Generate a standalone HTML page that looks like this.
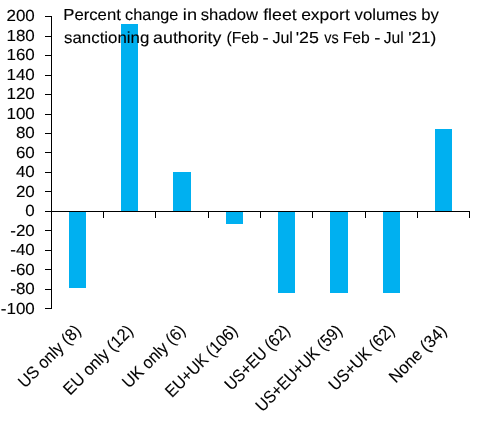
<!DOCTYPE html>
<html><head><meta charset="utf-8"><style>
html,body{margin:0;padding:0;background:#fff;width:482px;height:422px;overflow:hidden}
svg{display:block;will-change:transform}
text{font-family:"Liberation Sans",sans-serif;font-size:16px;fill:#000;stroke:#000;stroke-width:0.12px;text-rendering:geometricPrecision}
</style></head><body>
<svg width="482" height="422" viewBox="0 0 482 422">
<rect x="69" y="212" width="17" height="76" fill="#00B0F0"/>
<rect x="121" y="24" width="17" height="187" fill="#00B0F0"/>
<rect x="173" y="172" width="18" height="39" fill="#00B0F0"/>
<rect x="226" y="212" width="17" height="12" fill="#00B0F0"/>
<rect x="278" y="212" width="17" height="81" fill="#00B0F0"/>
<rect x="330" y="212" width="18" height="81" fill="#00B0F0"/>
<rect x="383" y="212" width="17" height="81" fill="#00B0F0"/>
<rect x="435" y="129" width="17" height="82" fill="#00B0F0"/>
<path d="M51.5 16V309 M45 16.5H52 M45 36.5H52 M45 55.5H52 M45 75.5H52 M45 94.5H52 M45 114.5H52 M45 133.5H52 M45 152.5H52 M45 172.5H52 M45 191.5H52 M45 211.5H52 M45 230.5H52 M45 250.5H52 M45 269.5H52 M45 289.5H52 M45 308.5H52 M51 211.5H470 M103.5 211V218 M155.5 211V218 M208.5 211V218 M260.5 211V218 M312.5 211V218 M365.5 211V218 M417.5 211V218 M469.5 211V218" stroke="#000" stroke-width="1" fill="none"/>
<text transform="translate(34.8,21.10) scale(1.06,1)" text-anchor="end">200</text>
<text transform="translate(34.8,40.60) scale(1.06,1)" text-anchor="end">180</text>
<text transform="translate(34.8,60.10) scale(1.06,1)" text-anchor="end">160</text>
<text transform="translate(34.8,79.60) scale(1.06,1)" text-anchor="end">140</text>
<text transform="translate(34.8,99.10) scale(1.06,1)" text-anchor="end">120</text>
<text transform="translate(34.8,118.60) scale(1.06,1)" text-anchor="end">100</text>
<text transform="translate(34.8,138.10) scale(1.06,1)" text-anchor="end">80</text>
<text transform="translate(34.8,157.60) scale(1.06,1)" text-anchor="end">60</text>
<text transform="translate(34.8,177.10) scale(1.06,1)" text-anchor="end">40</text>
<text transform="translate(34.8,196.60) scale(1.06,1)" text-anchor="end">20</text>
<text transform="translate(34.8,216.10) scale(1.06,1)" text-anchor="end">0</text>
<text transform="translate(34.8,235.60) scale(1.06,1)" text-anchor="end">-20</text>
<text transform="translate(34.8,255.10) scale(1.06,1)" text-anchor="end">-40</text>
<text transform="translate(34.8,274.60) scale(1.06,1)" text-anchor="end">-60</text>
<text transform="translate(34.8,294.10) scale(1.06,1)" text-anchor="end">-80</text>
<text transform="translate(34.8,313.60) scale(1.06,1)" text-anchor="end">-100</text>
<text transform="translate(63.24,20) scale(1.0447,1)" style="font-size:16.0px">Percent</text>
<text transform="translate(125.09,20) scale(1.0137,1)" style="font-size:16.0px">change</text>
<text transform="translate(182.85,20) scale(1.1346,1)" style="font-size:16.0px">in</text>
<text transform="translate(200.78,20) scale(1.0384,1)" style="font-size:16.0px">shadow</text>
<text transform="translate(263.18,20) scale(1.1104,1)" style="font-size:16.0px">fleet</text>
<text transform="translate(301.13,20) scale(1.094,1)" style="font-size:16.0px">export</text>
<text transform="translate(354.5,20) scale(1.0492,1)" style="font-size:16.0px">volumes</text>
<text transform="translate(421.26,20) scale(1.044,1)" style="font-size:16.0px">by</text>
<text transform="translate(64.07,43) scale(1.0529,1)" style="font-size:16.0px">sanctioning</text>
<text transform="translate(153.12,43) scale(1.112,1)" style="font-size:16.0px">authority</text>
<text transform="translate(226.52,43) scale(0.9808,1)" style="font-size:16.0px">(Feb</text>
<text transform="translate(262.4,43) scale(1.15,1)" style="font-size:16.0px">-</text>
<text transform="translate(272.4,43) scale(1.0,1)" style="font-size:16.0px">Jul</text>
<text transform="translate(295.71,43) scale(1.1134,1)" style="font-size:16.0px">'25</text>
<text transform="translate(324.31,43) scale(0.9,1)" style="font-size:16.0px">vs</text>
<text transform="translate(342.73,43) scale(0.9805,1)" style="font-size:16.0px">Feb</text>
<text transform="translate(374.2,43) scale(1.15,1)" style="font-size:16.0px">-</text>
<text transform="translate(383.71,43) scale(0.9738,1)" style="font-size:16.0px">Jul</text>
<text transform="translate(408.14,43) scale(1.0779,1)" style="font-size:16.0px">'21)</text>
<text transform="translate(81.83,331.8) rotate(-45) scale(0.9468,1)" text-anchor="end" style="font-size:17px">US only (8)</text>
<text transform="translate(134.07,331.8) rotate(-45) scale(0.9600,1)" text-anchor="end" style="font-size:17px">EU only (12)</text>
<text transform="translate(186.32,331.8) rotate(-45) scale(0.9527,1)" text-anchor="end" style="font-size:17px">UK only (6)</text>
<text transform="translate(238.57,331.8) rotate(-45) scale(0.9255,1)" text-anchor="end" style="font-size:17px">EU+UK (106)</text>
<text transform="translate(290.82,331.8) rotate(-45) scale(0.9120,1)" text-anchor="end" style="font-size:17px">US+EU (62)</text>
<text transform="translate(343.07,331.8) rotate(-45) scale(0.9072,1)" text-anchor="end" style="font-size:17px">US+EU+UK (59)</text>
<text transform="translate(395.32,331.8) rotate(-45) scale(0.9174,1)" text-anchor="end" style="font-size:17px">US+UK (62)</text>
<text transform="translate(447.57,331.8) rotate(-45) scale(0.9710,1)" text-anchor="end" style="font-size:17px">None (34)</text>
</svg></body></html>
